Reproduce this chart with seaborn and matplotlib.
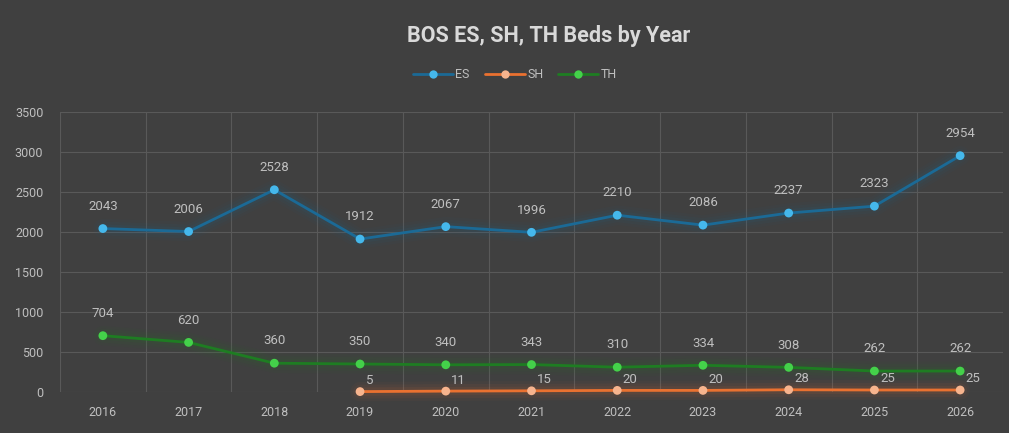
import matplotlib
matplotlib.use("Agg")
import matplotlib.pyplot as plt
from matplotlib.lines import Line2D
import seaborn as sns
import pandas as pd
import numpy as np


years = [2016, 2017, 2018, 2019, 2020, 2021, 2022, 2023, 2024, 2025, 2026]
es_beds = [2043, 2006, 2528, 1912, 2067, 1996, 2210, 2086, 2237, 2323, 2954]
sh_beds = [np.nan, np.nan, np.nan, 5, 11, 15, 20, 20, 28, 25, 25]
th_beds = [704, 620, 360, 350, 340, 343, 310, 334, 308, 262, 262]

series_names = ["ES", "SH", "TH"]
line_colors = {"ES": "#1B6A96", "SH": "#EA7130", "TH": "#1E7D22"}
marker_colors = {"ES": "#45B8EC", "SH": "#F7B48E", "TH": "#44D14A"}

BG = "#404040"
TXT = "#BFBFBF"

df = pd.DataFrame({
    "x": list(range(len(years))) * 3,
    "beds": es_beds + sh_beds + th_beds,
    "series": ["ES"] * len(years) + ["SH"] * len(years) + ["TH"] * len(years),
})


sns.set_style("dark")
plt.rcParams["font.family"] = ["Roboto", "DejaVu Sans"]

fig = plt.figure(
    figsize=(10.09, 4.33),
    dpi=100,
    facecolor=BG
)

ax = fig.add_axes([60 / 1009, 1 - 392 / 433, 943 / 1009, 280 / 433])
ax.set_facecolor(BG)


# soft glow under the lines
for name in series_names:
    d = df[df["series"] == name].dropna()
    for lw, a in [(14, 0.04), (10, 0.06), (6, 0.08)]:
        ax.plot(d["x"], d["beds"], color=line_colors[name], lw=lw, alpha=a,
                solid_capstyle="round", solid_joinstyle="round",
                zorder=2, clip_on=False)

sns.lineplot(
    data=df.dropna(),
    x="x",
    y="beds",
    hue="series",
    palette=line_colors,
    linewidth=2,
    legend=False,
    ax=ax,
    zorder=3,
    clip_on=False
)

sns.scatterplot(
    data=df.dropna(),
    x="x",
    y="beds",
    hue="series",
    palette=marker_colors,
    s=40,
    linewidth=0,
    legend=False,
    ax=ax,
    zorder=4,
    clip_on=False
)


# data labels
label_fx = dict(fontsize=9.5, color=TXT)
for i, v in enumerate(es_beds):
    ax.annotate(f"{v}", (i, v), xytext=(0, 16), textcoords="offset points",
                ha="center", va="center", **label_fx)
for i, v in enumerate(th_beds):
    ax.annotate(f"{v}", (i, v), xytext=(0, 16), textcoords="offset points",
                ha="center", va="center", **label_fx)
for i, v in enumerate(sh_beds):
    if not np.isnan(v):
        ax.annotate(f"{int(v)}", (i, v), xytext=(4, 8), textcoords="offset points",
                    ha="left", va="center", **label_fx)


ax.set_xlim(-0.5, len(years) - 0.5)
ax.set_ylim(0, 3500)
ax.set_yticks(range(0, 3501, 500))
ax.set_xticks(range(len(years)))
ax.set_xticklabels([str(y) for y in years])
ax.set_xticks(np.arange(-0.5, len(years), 1), minor=True)

ax.tick_params(axis="both", which="both", length=0, colors=TXT, labelsize=9)
ax.tick_params(axis="x", pad=10)
ax.tick_params(axis="y", pad=12)

ax.grid(False)
ax.grid(True, axis="y", which="major", color="#595959", lw=0.8)
ax.grid(True, axis="x", which="minor", color="#595959", lw=0.8)
ax.set_axisbelow(True)

ax.set_xlabel("")
ax.set_ylabel("")

for s in ax.spines.values():
    s.set_visible(False)


fig.text(
    549 / 1009, 1 - 36 / 433,
    "BOS ES, SH, TH Beds by Year",
    ha="center", va="center",
    fontsize=15.5, fontweight="bold", color="#D9D9D9"
)

handles = [
    Line2D([0], [0], color=line_colors[n], lw=2, marker="o", markersize=6,
           markerfacecolor=marker_colors[n], markeredgewidth=0)
    for n in series_names
]
fig.legend(
    handles, series_names,
    loc="center", bbox_to_anchor=(515 / 1009, 1 - 75 / 433),
    ncol=3, frameon=False, fontsize=9, labelcolor=TXT,
    handlelength=3.2, handletextpad=0.2, columnspacing=1.2
)

fig.savefig("out.png", dpi=100, facecolor=BG)
